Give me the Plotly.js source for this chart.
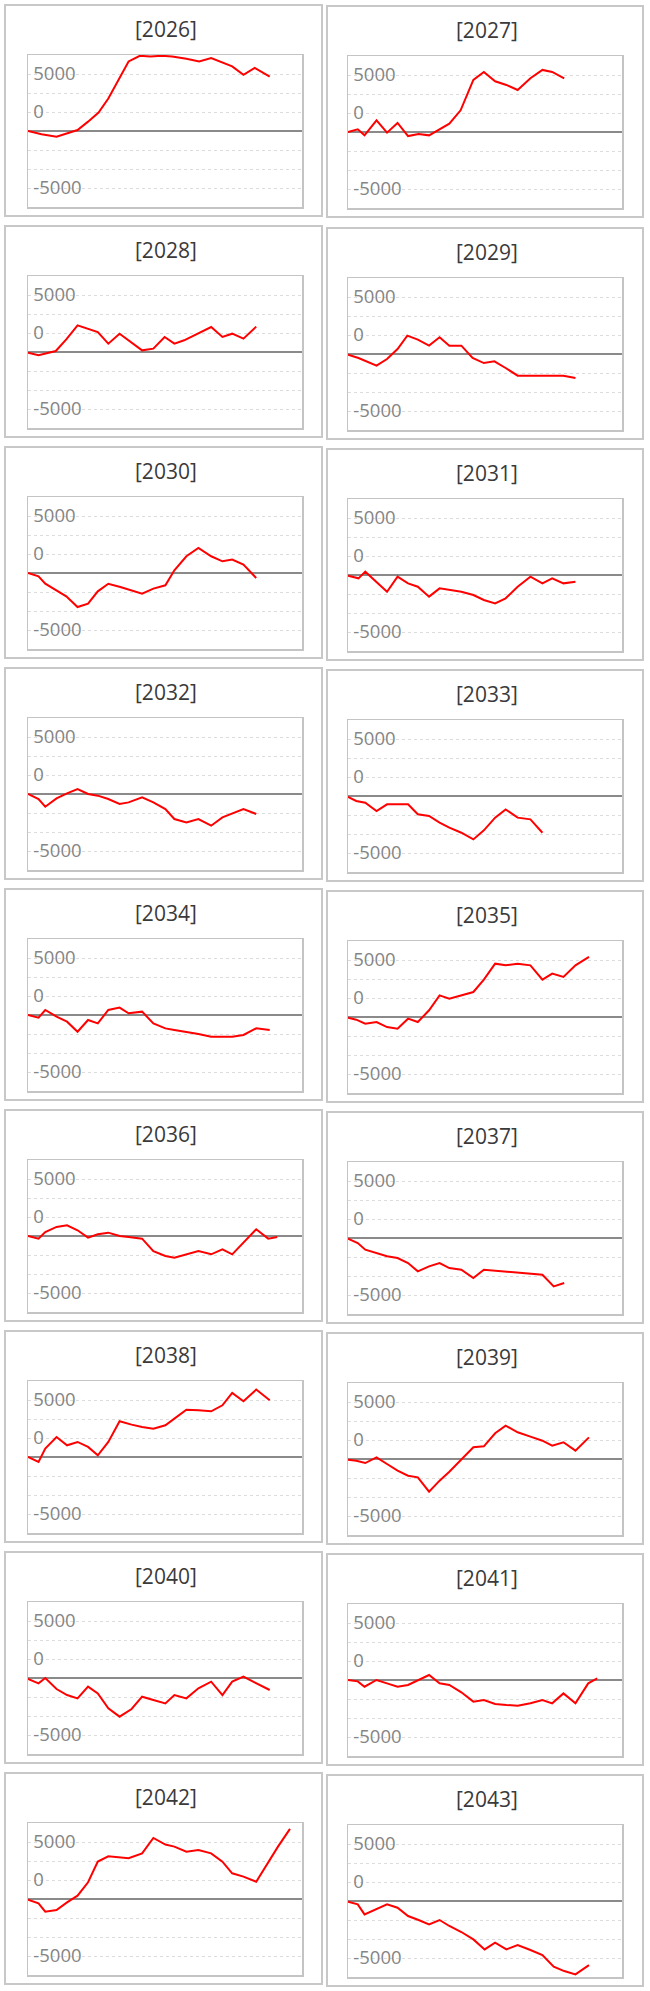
<!DOCTYPE html>
<html>
<head>
<meta charset="utf-8">
<script src="https://cdn.plot.ly/plotly-3.0.1.min.js"></script>
<style>
  html, body { margin: 0; padding: 0; background: #ffffff; }
  #chart { width: 650px; height: 1991px; }
</style>
</head>
<body>
<div id="chart"></div>
<script>
// ---- data (x = day of year, y = value) ----
const years = [2026, 2027, 2028, 2029, 2030, 2031, 2032, 2033, 2034, 2035, 2036, 2037, 2038, 2039, 2040, 2041, 2042, 2043];

const d2026 = [0,18,38,52,66,80,94,107,121,134,149,163,178,192,211,228,244,258,272,287,302,322];
const v2026 = [0,-440,-750,-350,130,1230,2420,4270,6900,9150,9900,9800,9900,9800,9500,9150,9600,9000,8500,7400,8300,7150];

const d2027 = [0,13,22,38,52,66,80,94,108,122,135,150,167,181,196,211,226,243,259,272,288];
const v2027 = [0,350,-440,1540,-90,1190,-530,-260,-440,350,1100,2850,6850,7900,6670,6190,5530,7070,8170,7900,7070];

const d2028 = [0,14,37,51,66,93,107,122,152,167,182,195,208,227,244,259,272,287,304];
const v2028 = [-90,-440,130,1670,3510,2630,1100,2410,220,440,1980,1100,1540,2410,3290,1980,2410,1760,3340];

const d2029 = [0,14,38,52,66,79,93,108,122,135,151,166,181,195,210,226,243,260,273,287,303];
const v2029 = [-90,-530,-1540,-660,660,2410,1890,1100,2200,1100,1100,-530,-1190,-970,-1840,-2850,-2850,-2850,-2850,-2850,-3160];

const d2030 = [0,14,23,37,51,66,80,93,107,123,138,152,167,183,195,211,227,244,259,272,287,304];
const v2030 = [0,-440,-1410,-2280,-3070,-4480,-4040,-2410,-1410,-1840,-2280,-2720,-2060,-1620,350,2200,3290,2200,1540,1760,1100,-660];

const d2031 = [0,14,23,38,52,66,80,93,108,122,135,151,167,181,196,210,226,243,259,272,287,303];
const v2031 = [-90,-440,440,-880,-2200,-220,-1100,-1540,-2850,-1760,-1980,-2200,-2630,-3290,-3730,-3070,-1540,-220,-1100,-440,-1100,-880];

const d2032 = [0,14,23,38,52,66,80,93,107,122,134,152,167,183,195,211,227,244,259,272,287,304];
const v2032 = [0,-660,-1670,-570,90,660,0,-220,-660,-1320,-1100,-440,-1100,-1980,-3290,-3730,-3290,-4170,-3070,-2550,-1980,-2630];

const d2033 = [0,11,23,38,52,66,80,93,108,122,135,151,167,181,196,210,226,243,259];
const v2033 = [-130,-660,-880,-1980,-1100,-1100,-1100,-2410,-2630,-3510,-4170,-4830,-5710,-4520,-2850,-1760,-2850,-3070,-4830];

const d2034 = [0,14,23,38,52,66,80,93,107,122,134,152,167,183,195,211,227,244,259,272,287,304,322];
const v2034 = [0,-350,660,-220,-880,-2200,-660,-1100,660,970,220,440,-1100,-1760,-1980,-2200,-2500,-2850,-2850,-2850,-2630,-1760,-1980];

const d2035 = [0,11,23,38,52,66,80,93,108,122,135,151,167,181,196,210,226,243,259,272,287,303,321];
const v2035 = [-90,-350,-880,-660,-1320,-1540,-220,-660,880,2850,2410,2850,3290,4920,7020,6800,7020,6800,4920,5710,5270,6800,7900];

const d2036 = [0,14,23,38,52,66,80,93,107,122,134,152,167,183,195,211,227,244,259,272,287,304,320,332];
const v2036 = [0,-350,530,1190,1410,750,-220,220,440,0,-130,-350,-1980,-2630,-2850,-2410,-1980,-2410,-1760,-2410,-880,880,-350,-130];

const d2037 = [0,13,23,38,52,66,80,93,108,122,135,151,167,181,259,274,288];
const v2037 = [-90,-660,-1540,-1980,-2410,-2630,-3290,-4390,-3730,-3290,-3950,-4170,-5270,-4170,-4830,-6370,-5930];

const d2038 = [0,14,23,38,52,66,80,93,107,122,138,152,167,183,195,211,227,244,259,272,287,304,322];
const v2038 = [0,-660,1100,2630,1540,1980,1320,220,1980,4700,4260,3950,3730,4170,5050,6230,6150,6010,6800,8430,7330,8870,7460];

const d2039 = [0,11,23,38,52,66,80,93,108,122,135,151,167,181,196,210,226,243,259,272,287,303,321];
const v2039 = [-90,-220,-530,220,-660,-1540,-2200,-2410,-4300,-2850,-1670,0,1540,1670,3380,4390,3510,2940,2410,1760,2200,1100,2850];

const d2040 = [0,14,23,38,52,66,80,93,107,122,138,152,167,183,195,211,227,244,259,272,287,304,322];
const v2040 = [-130,-700,0,-1450,-2240,-2680,-1140,-2020,-4000,-5090,-4080,-2460,-2900,-3340,-2240,-2680,-1360,-480,-2240,-480,180,-700,-1580];

const d2041 = [0,13,22,38,52,66,80,93,108,122,135,151,167,181,196,211,226,243,259,272,287,303,320,332];
const v2041 = [0,-180,-880,0,-440,-880,-660,-90,660,-440,-660,-1620,-2850,-2630,-3160,-3290,-3380,-3070,-2630,-3070,-1760,-3070,-440,220];

const d2042 = [0,14,23,38,52,66,80,93,107,121,134,152,167,183,195,211,227,244,259,272,287,304,319,333,349];
const v2042 = [-90,-570,-1670,-1450,-440,440,2200,4920,5620,5490,5360,6010,8030,7160,6890,6230,6450,6010,4920,3380,2940,2280,4700,6890,9220];

const d2043 = [0,13,22,38,52,66,80,94,108,122,135,151,167,182,196,211,226,243,259,274,288,303,321];
const v2043 = [-90,-440,-1760,-1100,-440,-880,-1980,-2500,-3070,-2500,-3290,-4080,-5050,-6370,-5490,-6370,-5800,-6450,-7110,-8650,-9220,-9660,-8430];

// y-axis gridlines and labels as shown in the chart
const yTickVals = [-7500, -5000, -2500, 2500, 5000, 7500];
const yTickText = ['-5000', '', '', '0', '', '5000'];

const seriesDays = [d2026,d2027,d2028,d2029,d2030,d2031,d2032,d2033,d2034,d2035,d2036,d2037,d2038,d2039,d2040,d2041,d2042,d2043];
const seriesVals = [v2026,v2027,v2028,v2029,v2030,v2031,v2032,v2033,v2034,v2035,v2036,v2037,v2038,v2039,v2040,v2041,v2042,v2043];

// ---- layout ----
const W = 650, H = 1991;
const px = v => v / W;
const py = v => 1 - v / H;

const traces = [];
const layout = {
  width: W, height: H,
  margin: {l: 0, r: 0, t: 0, b: 0},
  paper_bgcolor: '#ffffff',
  plot_bgcolor: '#ffffff',
  showlegend: false,
  shapes: [],
  annotations: []
};

years.forEach((yr, i) => {
  const col = i % 2, row = Math.floor(i / 2);
  const top = 4 + 221 * row + (col === 1 ? (row === 0 ? 1 : 2) : 0);
  const panelX0 = col === 0 ? 5 : 327;
  const panelX1 = col === 0 ? 322 : 643;
  const boxX0 = col === 0 ? 28 : 348;
  const boxX1 = boxX0 + 274;
  const boxTop = top + 51, boxBot = top + 203;
  const sfx = i === 0 ? '' : String(i + 1);

  traces.push({
    type: 'scatter', mode: 'lines',
    x: seriesDays[i], y: seriesVals[i],
    xaxis: 'x' + sfx, yaxis: 'y' + sfx,
    line: {color: '#ff0000', width: 2},
    hoverinfo: 'skip'
  });

  layout['xaxis' + sfx] = {
    domain: [px(boxX0), px(boxX1)],
    anchor: 'y' + sfx,
    range: [0, 365],
    showgrid: false, zeroline: false, showticklabels: false, ticks: '',
    showline: true, mirror: true, linecolor: '#c4c4c4', linewidth: 1.5,
    fixedrange: true
  };
  layout['yaxis' + sfx] = {
    domain: [py(boxBot), py(boxTop)],
    anchor: 'x' + sfx,
    range: [-10000, 10000],
    tickmode: 'array', tickvals: yTickVals, ticktext: yTickText,
    ticklabelposition: 'inside', ticks: '', ticklabelstandoff: 6,
    tickfont: {family: 'Open Sans, Noto Sans, sans-serif', size: 18.5, color: '#858585'},
    showgrid: true, gridcolor: '#dcdcdc', gridwidth: 1, griddash: 'dot',
    zeroline: true, zerolinecolor: '#8a8a8a', zerolinewidth: 1.5,
    showline: true, mirror: true, linecolor: '#c4c4c4', linewidth: 1.5,
    fixedrange: true
  };

  layout.shapes.push({
    type: 'rect', xref: 'paper', yref: 'paper',
    x0: px(panelX0), x1: px(panelX1), y0: py(top + 212), y1: py(top + 1),
    line: {color: '#c8c8c8', width: 2}, fillcolor: 'rgba(0,0,0,0)', layer: 'below'
  });

  layout.annotations.push({
    xref: 'paper', yref: 'paper',
    x: px((panelX0 + panelX1) / 2 + 2), y: py(top + 25),
    xanchor: 'center', yanchor: 'middle',
    text: '[' + yr + ']', showarrow: false,
    font: {family: 'Open Sans, Noto Sans, sans-serif', size: 21, color: '#3a3a3a'}
  });
});

Plotly.newPlot('chart', traces, layout, {staticPlot: true, displayModeBar: false});
</script>
</body>
</html>
